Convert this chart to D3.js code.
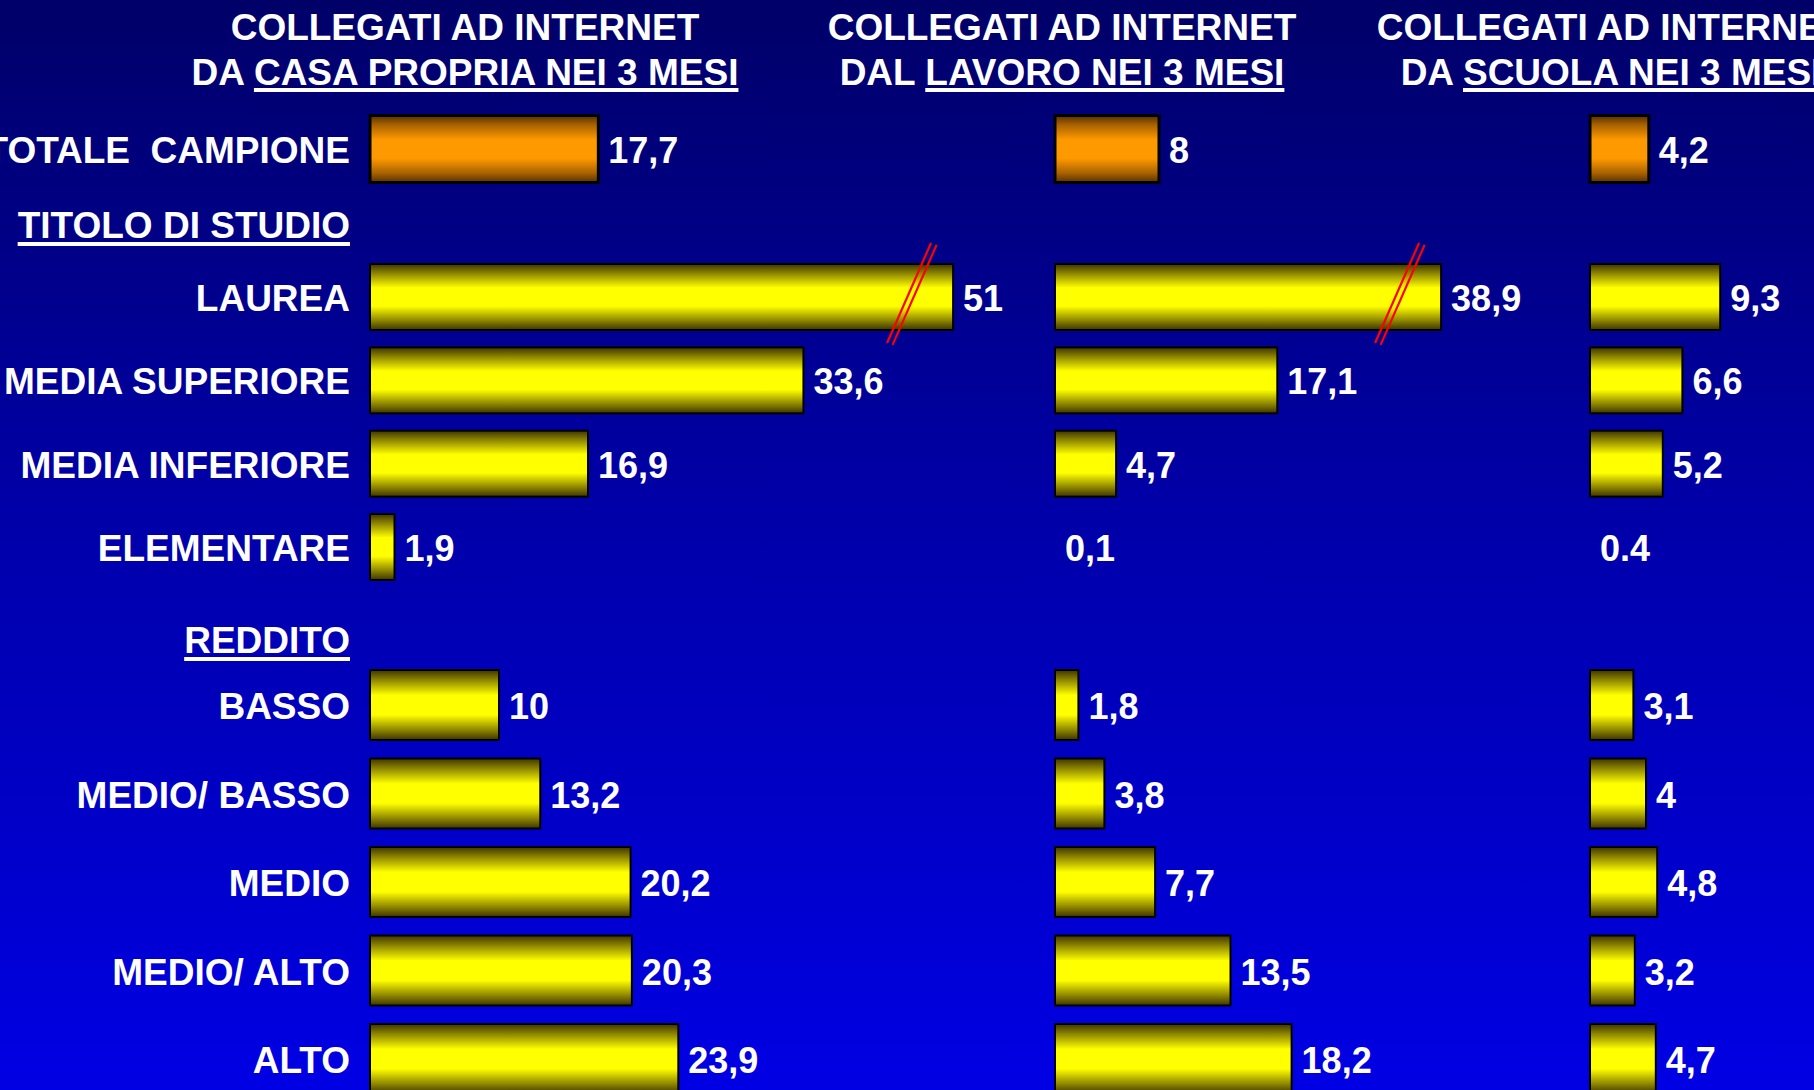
<!DOCTYPE html>
<html>
<head>
<meta charset="utf-8">
<script src="https://cdn.jsdelivr.net/npm/d3@7"></script>
<style>
  html, body { margin: 0; padding: 0; background: #000080; }
  svg { display: block; }
  text { font-family: "Liberation Sans", Arial, Helvetica, sans-serif; font-weight: bold; fill: #fff; }
</style>
</head>
<body>
<script>
// Categories shown down the left side, grouped under two headings
const categories = ["TOTALE  CAMPIONE", "LAUREA", "MEDIA SUPERIORE", "MEDIA INFERIORE", "ELEMENTARE",
                    "BASSO", "MEDIO/ BASSO", "MEDIO", "MEDIO/ ALTO", "ALTO"];
const categoryGroups = ["totale", "studio", "studio", "studio", "studio",
                        "reddito", "reddito", "reddito", "reddito", "reddito"];
const groupHeadings = ["TITOLO DI STUDIO", "REDDITO"];

// Percentages connected to the internet in the last 3 months
const casaValues   = [17.7, 51, 33.6, 16.9, 1.9, 10, 13.2, 20.2, 20.3, 23.9];
const lavoroValues = [8, 38.9, 17.1, 4.7, 0.1, 1.8, 3.8, 7.7, 13.5, 18.2];
const scuolaValues = [4.2, 9.3, 6.6, 5.2, 0.4, 3.1, 4, 4.8, 3.2, 4.7];

// Value labels as printed next to each bar
const casaLabels   = ["17,7", "51", "33,6", "16,9", "1,9", "10", "13,2", "20,2", "20,3", "23,9"];
const lavoroLabels = ["8", "38,9", "17,1", "4,7", "0,1", "1,8", "3,8", "7,7", "13,5", "18,2"];
const scuolaLabels = ["4,2", "9,3", "6,6", "5,2", "0.4", "3,1", "4", "4,8", "3,2", "4,7"];

// Panel titles
const titleLine1 = "COLLEGATI AD INTERNET";
const titlePrefixes = ["DA ", "DAL ", "DA "];
const titleUnderlined = ["CASA PROPRIA NEI 3 MESI", "LAVORO NEI 3 MESI", "SCUOLA NEI 3 MESI"];

const W = 1814, H = 1090;

const svg = d3.select("body").append("svg").attr("width", W).attr("height", H);
const defs = svg.append("defs");

// Background: deep navy at the top fading to bright blue
const bg = defs.append("linearGradient").attr("id", "bg")
  .attr("x1", 0).attr("y1", 0).attr("x2", 0).attr("y2", 1);
[[0, "#000068"], [0.45, "#0000a6"], [1, "#0000e4"]].forEach(([o, c]) =>
  bg.append("stop").attr("offset", o).attr("stop-color", c));
svg.append("rect").attr("width", W).attr("height", H).attr("fill", "url(#bg)");

// Cylinder-like shading for the bars
function barGradient(id, dark, mid, bright) {
  const g = defs.append("linearGradient").attr("id", id)
    .attr("x1", 0).attr("y1", 0).attr("x2", 0).attr("y2", 1);
  [[0, dark], [0.14, mid], [0.36, bright], [0.5, bright], [0.64, bright], [0.86, mid], [1, dark]]
    .forEach(([o, c]) => g.append("stop").attr("offset", o).attr("stop-color", c));
}
barGradient("gYellow", "#3c3400", "#8c8400", "#ffff00");
barGradient("gOrange", "#553000", "#a86200", "#ff9900");

// Vertical layout: one band per group
const yTotale = d3.scaleBand().domain([categories[0]]).range([115.5, 182.5]).padding(0);
const yStudio = d3.scalePoint().domain(categories.slice(1, 5)).range([297, 547]);
const yReddito = d3.scalePoint().domain(categories.slice(5)).range([705, 1059]);

function rowCenter(i) {
  const c = categories[i], g = categoryGroups[i];
  if (g === "totale") return yTotale(c) + yTotale.bandwidth() / 2;
  if (g === "studio") return yStudio(c);
  return yReddito(c);
}
function rowHeight(i) {
  const g = categoryGroups[i];
  return g === "totale" ? 67 : g === "studio" ? 66 : 70;
}

// Category labels, right aligned against the first panel
const labelRight = 350;
svg.append("g").selectAll("text").data(categories).join("text")
  .attr("x", labelRight)
  .attr("y", (d, i) => rowCenter(i) + 14)
  .attr("text-anchor", "end")
  .style("white-space", "pre")
  .attr("font-size", 37)
  .text(d => d);

// Group headings, underlined
const headingY = [238, 653];
groupHeadings.forEach((h, i) => {
  const t = svg.append("text")
    .attr("x", labelRight).attr("y", headingY[i])
    .attr("text-anchor", "end").attr("font-size", 37).text(h);
  const bb = t.node().getBBox();
  svg.append("rect").attr("x", bb.x).attr("y", headingY[i] + 4)
    .attr("width", bb.width).attr("height", 4).attr("fill", "#fff");
});

// Three panels of horizontal bars
const panels = [
  { values: casaValues,   labels: casaLabels,   x0: 370,  center: 465,  unit: 12.9, breakAt: 45.2 },
  { values: lavoroValues, labels: lavoroLabels, x0: 1055, center: 1062, unit: 13.0, breakAt: 29.7 },
  { values: scuolaValues, labels: scuolaLabels, x0: 1590, center: 1611, unit: 14.0, breakAt: Infinity }
];

panels.forEach((p, pi) => {
  const g = svg.append("g");

  // Title: two lines, the second partially underlined
  g.append("text").attr("x", p.center).attr("y", 40)
    .attr("text-anchor", "middle").attr("font-size", 37).text(titleLine1);
  const full = titlePrefixes[pi] + titleUnderlined[pi];
  const t2 = g.append("text").attr("x", p.center).attr("y", 85)
    .attr("text-anchor", "middle").attr("font-size", 37)
    .style("white-space", "pre").text(full);
  const bb = t2.node().getBBox();
  const pre = t2.node().getSubStringLength(0, titlePrefixes[pi].length);
  g.append("rect").attr("x", bb.x + pre).attr("y", 88)
    .attr("width", bb.width - pre).attr("height", 4).attr("fill", "#fff");

  // Linear scale; bars beyond the axis break are cut at the break
  const x = d3.scaleLinear().domain([0, 10]).range([0, 10 * p.unit]);
  const shown = v => x(Math.min(v, p.breakAt));

  const rows = p.values.map((v, i) => ({ v, i, label: p.labels[i], broken: v > p.breakAt }));
  // Values under half a point are printed as text only
  const drawn = rows.filter(d => d.v >= 0.5);

  g.selectAll("rect.bar").data(drawn).join("rect")
    .attr("class", "bar")
    .attr("x", p.x0)
    .attr("y", d => rowCenter(d.i) - rowHeight(d.i) / 2)
    .attr("width", d => shown(d.v))
    .attr("height", d => rowHeight(d.i))
    .attr("fill", d => categoryGroups[d.i] === "totale" ? "url(#gOrange)" : "url(#gYellow)")
    .attr("stroke", "#000")
    .attr("stroke-width", d => categoryGroups[d.i] === "totale" ? 3 : 2);

  // Axis-break marks: two red slanted strokes near the end of cut bars
  rows.filter(d => d.broken).forEach(d => {
    const xe = p.x0 + shown(d.v), yc = rowCenter(d.i);
    [0, 5.5].forEach(off => {
      g.append("line")
        .attr("x1", xe - 22 + off).attr("y1", yc - 54 + off * 0.35)
        .attr("x2", xe - 66 + off).attr("y2", yc + 46 + off * 0.35)
        .attr("stroke", "#ff0000").attr("stroke-width", 2.2);
    });
  });

  // Value labels
  g.selectAll("text.val").data(rows).join("text")
    .attr("class", "val")
    .attr("x", d => p.x0 + (d.v >= 0.5 ? shown(d.v) : 0) + 10)
    .attr("y", d => rowCenter(d.i) + 14)
    .attr("font-size", 36)
    .text(d => d.label);
});
</script>
</body>
</html>
